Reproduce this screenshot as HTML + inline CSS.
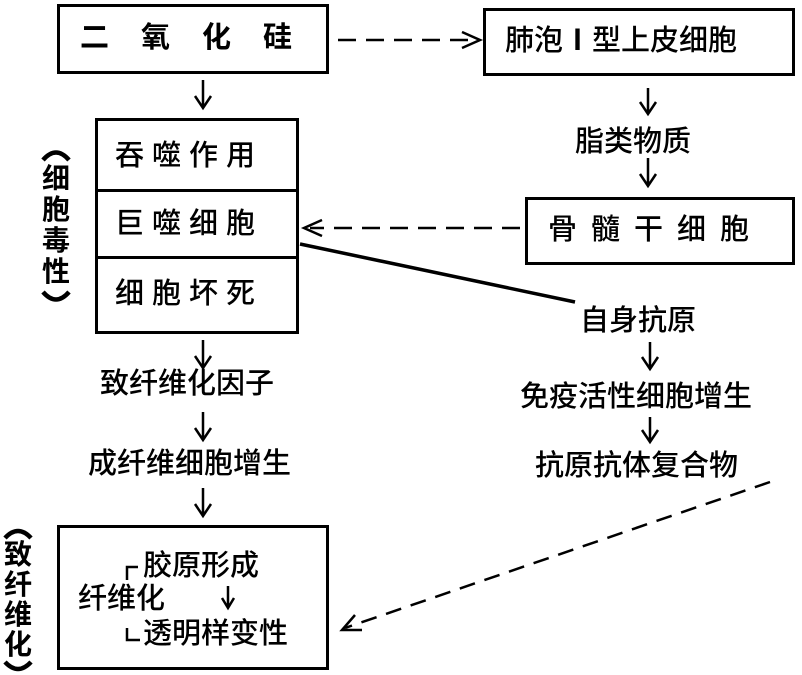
<!DOCTYPE html><html><head><meta charset="utf-8"><style>
body{margin:0;width:802px;height:675px;background:#fff;position:relative;overflow:hidden;font-family:"Liberation Sans","Noto Sans CJK SC",sans-serif;color:#000}
.t{position:absolute;white-space:nowrap;font-size:29px;line-height:1;font-weight:bold}
.n{font-weight:500}
.b{position:absolute;border:3px solid #000;box-sizing:border-box}
</style></head><body>
<div class="b" style="left:57px;top:4px;width:272px;height:70px"></div>
<div class="t" style="left:80px;top:24px;letter-spacing:32px">二氧化硅</div>
<div class="b" style="left:483px;top:8px;width:312px;height:68px"></div>
<div class="t n" style="left:505px;top:27px">肺泡<b>Ⅰ</b>型上皮细胞</div>
<div class="b" style="left:95px;top:118px;width:204px;height:216px"></div>
<div style="position:absolute;left:95px;top:189px;width:204px;height:3px;background:#000"></div>
<div style="position:absolute;left:95px;top:256px;width:204px;height:3px;background:#000"></div>
<div class="t n" style="left:115px;top:142px;letter-spacing:8px">吞噬作用</div>
<div class="t n" style="left:115px;top:210px;letter-spacing:8px">巨噬细胞</div>
<div class="t n" style="left:115px;top:280px;letter-spacing:8px">细胞坏死</div>
<div class="t" style="left:40px;top:163px;font-size:28px;width:32px;line-height:31px;text-align:center">细<br>胞<br>毒<br>性</div>
<div class="t n" style="left:575px;top:128px">脂类物质</div>
<div class="b" style="left:525px;top:197px;width:270px;height:68px"></div>
<div class="t n" style="left:548px;top:216px;letter-spacing:14px">骨髓干细胞</div>
<div class="t n" style="left:580px;top:307px">自身抗原</div>
<div class="t n" style="left:520px;top:383px">免疫活性细胞增生</div>
<div class="t n" style="left:535px;top:452px">抗原抗体复合物</div>
<div class="t n" style="left:100px;top:370px">致纤维化因子</div>
<div class="t n" style="left:88px;top:450px">成纤维细胞增生</div>
<div class="b" style="left:57px;top:525px;width:272px;height:145px"></div>
<div class="t n" style="left:143px;top:552px">胶原形成</div>
<div class="t n" style="left:78px;top:585px">纤维化</div>
<div class="t n" style="left:143px;top:620px">透明样变性</div>
<div class="t" style="left:2px;top:540px;font-size:28px;width:32px;line-height:30px;text-align:center">致<br>纤<br>维<br>化</div>
<svg width="802" height="675" style="position:absolute;left:0;top:0" fill="none" stroke="#000" stroke-width="2.5">
<g stroke-width="4.5"><path d="M43 160Q56 145 69 160"/><path d="M43 292Q56 307 69 292"/><path d="M5 538Q18 524 31 538"/><path d="M5 662Q18 676 31 662"/></g>
<path d="M338 40H478" stroke-dasharray="18 10"/><path d="M462 32L480 40L462 48"/>
<g><path d="M203 80V106M195 96L203 108L211 96"/></g>
<g><path d="M648 88V113M640 102L648 114L656 102"/></g>
<g><path d="M648 158V185M640 174L648 186L656 174"/></g>
<path d="M520 228H310" stroke-dasharray="18 10"/><path d="M322 220L304 228L322 236"/>
<path d="M300 244L575 302" stroke-width="3.5"/>
<g><path d="M650 342V368M642 357L650 369L658 357"/></g>
<g><path d="M650 417V440M642 430L650 442L658 430"/></g>
<g><path d="M203 340V366M195 356L203 368L211 356"/></g>
<g><path d="M203 412V438M195 428L203 440L211 428"/></g>
<g><path d="M203 488V514M195 504L203 516L211 504"/></g>
<path d="M770 482L345 628" stroke-dasharray="16 10"/><path d="M355 615L342 630L362 630"/>
<path d="M127 580V567H138M127 628V640H140"/>
<path d="M228 586V606M222 598L228 608L234 598"/>
</svg>
</body></html>
